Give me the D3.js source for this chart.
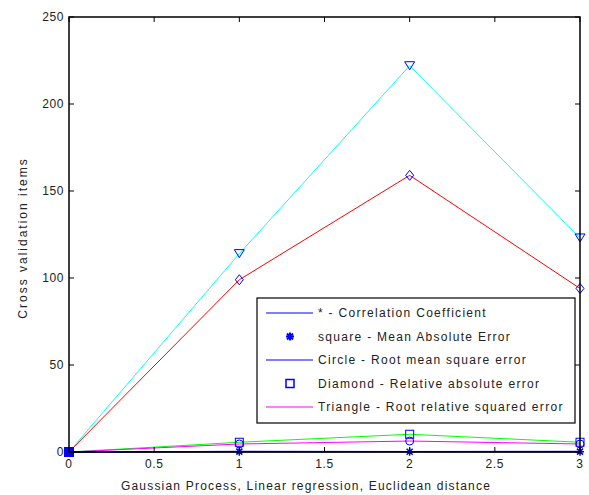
<!DOCTYPE html>
<html><head><meta charset="utf-8">
<script src="https://cdn.jsdelivr.net/npm/d3@7"></script>
<style>body{margin:0;background:#fff}svg{display:block}text{font-family:"Liberation Sans",Arial,sans-serif;fill:#222}</style>
</head><body><svg id="c" width="589" height="495"></svg>
<script>
const xValues = [0, 1, 2, 3];
const corrCoef = [0, 0.4, 0.3, 0.4];
const meanAbsErr = [0, 0.2, 0.1, 0.2];
const rmse = [0, 5.6, 10.2, 5.6];
const rrseSmall = [0, 4.6, 6.3, 4.6];
const relAbsErr = [0, 99, 159, 94];
const rootRelSqErr = [0, 114, 222, 123];
const xTicks = [0, 0.5, 1, 1.5, 2, 2.5, 3];
const yTicks = [0, 50, 100, 150, 200, 250];
const legendLabels = ["* - Correlation Coefficient", "square - Mean Absolute Error", "Circle - Root mean square error", "Diamond - Relative absolute error", "Triangle - Root relative squared error"];

const svg = d3.select("#c");
const L = 69, R = 580, T = 17, B = 452;
const x = d3.scaleLinear().domain([0, 3]).range([L, R]);
const y = d3.scaleLinear().domain([0, 250]).range([B, T]);

const line = d3.line().x((d, i) => x(xValues[i])).y(d => y(d));
function drawLine(vals, color, w) {
  svg.append("path").datum(vals).attr("d", line).attr("fill", "none").attr("stroke", color).attr("stroke-width", w || 1);
}
drawLine(rmse, "#00ff00");
drawLine(rrseSmall, "#ff00ff");
drawLine(meanAbsErr, "#000080", 1.5);
drawLine(corrCoef, "#0000ff");
drawLine(relAbsErr, "#ff0000");
drawLine(rootRelSqErr, "#00ffff");

const mk = "#0000ff";
function markers(vals, type) {
  const g = svg.append("g");
  vals.forEach((v, i) => {
    if (i === 0) return;
    const cx = x(xValues[i]), cy = y(v);
    if (type === "tri") g.append("path").attr("d", `M${cx-5},${cy-4}L${cx+5},${cy-4}L${cx},${cy+4}Z`).attr("fill", "none").attr("stroke", mk);
    if (type === "dia") g.append("path").attr("d", `M${cx},${cy-5}L${cx+4},${cy}L${cx},${cy+5}L${cx-4},${cy}Z`).attr("fill", "none").attr("stroke", mk);
    if (type === "sq") g.append("rect").attr("x", cx-4).attr("y", cy-4).attr("width", 8).attr("height", 8).attr("fill", "none").attr("stroke", mk);
    if (type === "circ") g.append("circle").attr("cx", cx).attr("cy", cy).attr("r", 4).attr("fill", "none").attr("stroke", mk);
    if (type === "star") g.append("path").attr("d", `M${cx-4},${cy}L${cx+4},${cy}M${cx},${cy-4}L${cx},${cy+4}M${cx-3},${cy-3}L${cx+3},${cy+3}M${cx-3},${cy+3}L${cx+3},${cy-3}`).attr("stroke", mk).attr("stroke-width", 1.5);
  });
}
markers(rootRelSqErr, "tri");
markers(relAbsErr, "dia");
markers(rmse, "sq");
markers(rrseSmall, "circ");
markers(meanAbsErr, "star");
svg.append("rect").attr("x", x(0)-5).attr("y", y(0)-5).attr("width", 10).attr("height", 10).attr("fill", "#0000ff");

// axes box
svg.append("rect").attr("x", L).attr("y", T).attr("width", R-L).attr("height", B-T).attr("fill", "none").attr("stroke", "#000").attr("stroke-width", 1.5);
const ax = svg.append("g").attr("font-size", 12).attr("letter-spacing", 0.6);
yTicks.forEach(t => {
  ax.append("line").attr("x1", L).attr("x2", L+5).attr("y1", y(t)).attr("y2", y(t)).attr("stroke", "#000");
  ax.append("line").attr("x1", R).attr("x2", R-5).attr("y1", y(t)).attr("y2", y(t)).attr("stroke", "#000");
  ax.append("text").attr("x", L-5).attr("y", y(t)+4).attr("text-anchor", "end").text(t);
});
xTicks.forEach(t => {
  ax.append("line").attr("x1", x(t)).attr("x2", x(t)).attr("y1", B).attr("y2", B-5).attr("stroke", "#000");
  ax.append("line").attr("x1", x(t)).attr("x2", x(t)).attr("y1", T).attr("y2", T+5).attr("stroke", "#000");
  ax.append("text").attr("x", x(t)).attr("y", B+16).attr("text-anchor", "middle").text(t);
});
svg.append("text").attr("x", 306).attr("y", 490).attr("text-anchor", "middle").attr("font-size", 12).attr("letter-spacing", 1.2).text("Gaussian Process, Linear regression, Euclidean distance");
svg.append("text").attr("transform", `translate(27,238) rotate(-90)`).attr("text-anchor", "middle").attr("font-size", 12).attr("letter-spacing", 2).text("Cross validation items");

// legend
const lg = svg.append("g");
lg.append("rect").attr("x", 257).attr("y", 298).attr("width", 318).attr("height", 125).attr("fill", "#fff").attr("stroke", "#000").attr("stroke-width", 1.2);
const legType = ["line", "star", "line", "sq", "line"];
const legColor = ["#0000ff", "#0000ff", "#0000ff", "#0000ff", "#ff00ff"];
legendLabels.forEach((lab, i) => {
  const ly = 313 + i * 23.5;
  if (legType[i] === "line") lg.append("line").attr("x1", 266).attr("x2", 313).attr("y1", ly).attr("y2", ly).attr("stroke", legColor[i]);
  if (legType[i] === "star") lg.append("path").attr("d", `M286,${ly}L294,${ly}M290,${ly-4}L290,${ly+4}M287,${ly-3}L293,${ly+3}M287,${ly+3}L293,${ly-3}`).attr("stroke", legColor[i]).attr("stroke-width", 2);
  if (legType[i] === "sq") lg.append("rect").attr("x", 286).attr("y", ly-4).attr("width", 8).attr("height", 8).attr("fill", "none").attr("stroke", legColor[i]).attr("stroke-width", 1.5);
  lg.append("text").attr("x", 318).attr("y", ly+4).attr("font-size", 12).attr("letter-spacing", 1.3).text(lab);
});
</script></body></html>
